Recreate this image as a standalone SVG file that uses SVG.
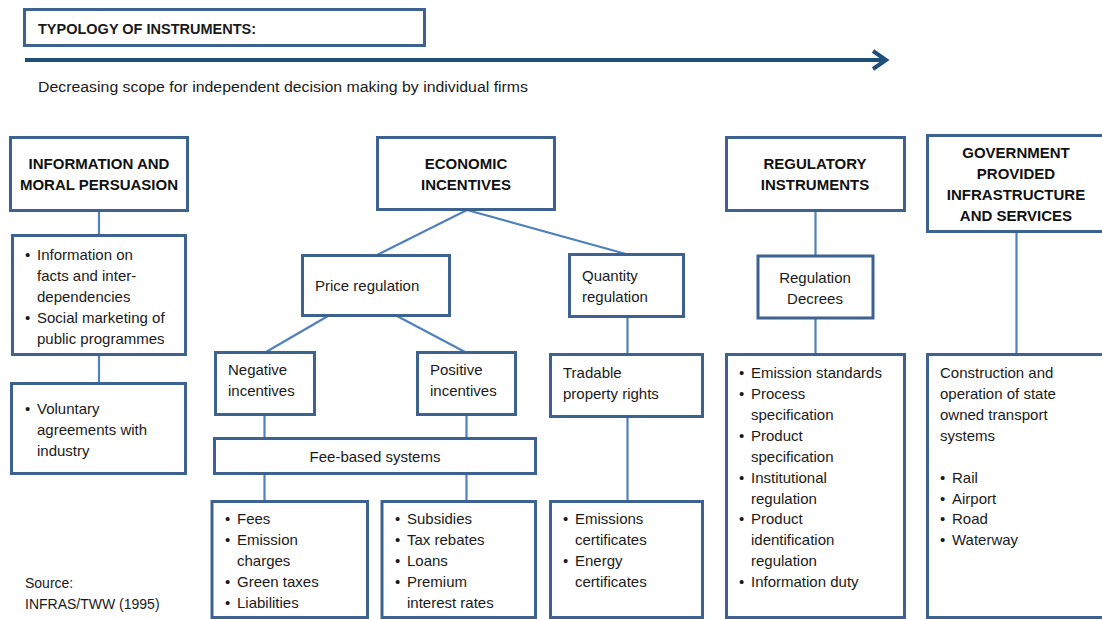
<svg xmlns="http://www.w3.org/2000/svg" width="1102" height="619" viewBox="0 0 1102 619">
  <style>
    .box { fill: #ffffff; stroke: #3e628f; stroke-width: 3; }
    .link { stroke: #4f81bd; stroke-width: 2.2; fill: none; }
    .t { font-family: "Liberation Sans", Arial, sans-serif; font-size: 15px; fill: #1a1a1a; }
    .h { font-family: "Liberation Sans", Arial, sans-serif; font-size: 15px; font-weight: bold; fill: #111111; text-anchor: middle; }
    .c { text-anchor: middle; }
  </style>

  <rect width="1102" height="619" fill="#ffffff"/>

  <!-- title and direction arrow -->
  <g id="title">
    <rect class="box" x="24.5" y="9.5" width="400" height="36"/>
    <text class="t" x="38" y="34" style="font-weight:bold;font-size:14.5px">TYPOLOGY OF INSTRUMENTS:</text>
  </g>
  <g id="scope-arrow">
    <line x1="25" y1="60" x2="884" y2="60" stroke="#1f4e79" stroke-width="4"/>
    <polyline points="873,51 886,60 873,69" fill="none" stroke="#1f4e79" stroke-width="4" stroke-linejoin="miter"/>
    <text class="t" x="38" y="92" textLength="490" lengthAdjust="spacingAndGlyphs" style="font-size:15.5px">Decreasing scope for independent decision making by individual firms</text>
  </g>

  <!-- connectors -->
  <g id="connectors">
    <line class="link" x1="99" y1="211" x2="99" y2="235"/>
    <line class="link" x1="99" y1="355" x2="99" y2="383"/>
    <line class="link" x1="467" y1="210" x2="377" y2="255"/>
    <line class="link" x1="467" y1="210" x2="626" y2="254"/>
    <line class="link" x1="328" y1="316" x2="266" y2="352"/>
    <line class="link" x1="397" y1="316" x2="465" y2="352"/>
    <line class="link" x1="264.5" y1="415" x2="264.5" y2="438"/>
    <line class="link" x1="466.5" y1="415" x2="466.5" y2="438"/>
    <line class="link" x1="264.5" y1="474" x2="264.5" y2="501"/>
    <line class="link" x1="466.5" y1="474" x2="466.5" y2="501"/>
    <line class="link" x1="627.5" y1="317" x2="627.5" y2="354"/>
    <line class="link" x1="627.5" y1="417" x2="627.5" y2="501"/>
    <line class="link" x1="815.5" y1="211" x2="815.5" y2="256"/>
    <line class="link" x1="815.5" y1="318" x2="815.5" y2="354"/>
    <line class="link" x1="1016.5" y1="232" x2="1016.5" y2="354"/>
  </g>

  <!-- column 1: information and moral persuasion -->
  <g id="info-moral">
    <rect class="box" x="10.5" y="137.5" width="177" height="73"/>
    <text class="h" x="99" y="169">INFORMATION AND</text>
    <text class="h" x="99" y="190">MORAL PERSUASION</text>
  </g>
  <g id="info-facts">
    <rect class="box" x="12.5" y="235.5" width="173" height="119"/>
    <text class="t" x="25" y="260">•</text>
    <text class="t" x="37" y="260">Information on</text>
    <text class="t" x="37" y="281">facts and inter-</text>
    <text class="t" x="37" y="302">dependencies</text>
    <text class="t" x="25" y="323">•</text>
    <text class="t" x="37" y="323">Social marketing of</text>
    <text class="t" x="37" y="344">public programmes</text>
  </g>
  <g id="voluntary">
    <rect class="box" x="11.5" y="383.5" width="174" height="90"/>
    <text class="t" x="25" y="414">•</text>
    <text class="t" x="37" y="414">Voluntary</text>
    <text class="t" x="37" y="435">agreements with</text>
    <text class="t" x="37" y="456">industry</text>
  </g>
  <g id="source">
    <text class="t" x="25" y="588" style="font-size:14px">Source:</text>
    <text class="t" x="25" y="609" style="font-size:14px">INFRAS/TWW (1995)</text>
  </g>

  <!-- column 2: economic incentives -->
  <g id="economic">
    <rect class="box" x="377.5" y="137.5" width="177" height="72"/>
    <text class="h" x="466" y="169">ECONOMIC</text>
    <text class="h" x="466" y="190">INCENTIVES</text>
  </g>
  <g id="price-regulation">
    <rect class="box" x="302.5" y="255.5" width="147" height="60"/>
    <text class="t" x="315" y="291">Price regulation</text>
  </g>
  <g id="negative">
    <rect class="box" x="215.5" y="352.5" width="99" height="62"/>
    <text class="t" x="228" y="375">Negative</text>
    <text class="t" x="228" y="396">incentives</text>
  </g>
  <g id="positive">
    <rect class="box" x="417.5" y="352.5" width="98" height="62"/>
    <text class="t" x="430" y="375">Positive</text>
    <text class="t" x="430" y="396">incentives</text>
  </g>
  <g id="fee-based">
    <rect class="box" x="214.5" y="438.5" width="321" height="35"/>
    <text class="t c" x="375" y="462">Fee-based systems</text>
  </g>
  <g id="fees">
    <rect class="box" x="212" y="501.5" width="155.5" height="116"/>
    <text class="t" x="225" y="524">•</text>
    <text class="t" x="237" y="524">Fees</text>
    <text class="t" x="225" y="545">•</text>
    <text class="t" x="237" y="545">Emission</text>
    <text class="t" x="237" y="566">charges</text>
    <text class="t" x="225" y="587">•</text>
    <text class="t" x="237" y="587">Green taxes</text>
    <text class="t" x="225" y="608">•</text>
    <text class="t" x="237" y="608">Liabilities</text>
  </g>
  <g id="subsidies">
    <rect class="box" x="382" y="501.5" width="153.5" height="116"/>
    <text class="t" x="395" y="524">•</text>
    <text class="t" x="407" y="524">Subsidies</text>
    <text class="t" x="395" y="545">•</text>
    <text class="t" x="407" y="545">Tax rebates</text>
    <text class="t" x="395" y="566">•</text>
    <text class="t" x="407" y="566">Loans</text>
    <text class="t" x="395" y="587">•</text>
    <text class="t" x="407" y="587">Premium</text>
    <text class="t" x="407" y="608">interest rates</text>
  </g>
  <g id="quantity-regulation">
    <rect class="box" x="569.5" y="254.5" width="114" height="62"/>
    <text class="t" x="582" y="281">Quantity</text>
    <text class="t" x="582" y="302">regulation</text>
  </g>
  <g id="tradable">
    <rect class="box" x="550.5" y="354.5" width="152" height="62"/>
    <text class="t" x="563" y="378">Tradable</text>
    <text class="t" x="563" y="399">property rights</text>
  </g>
  <g id="certificates">
    <rect class="box" x="550.5" y="501.5" width="152" height="116"/>
    <text class="t" x="563" y="524">•</text>
    <text class="t" x="575" y="524">Emissions</text>
    <text class="t" x="575" y="545">certificates</text>
    <text class="t" x="563" y="566">•</text>
    <text class="t" x="575" y="566">Energy</text>
    <text class="t" x="575" y="587">certificates</text>
  </g>

  <!-- column 3: regulatory instruments -->
  <g id="regulatory">
    <rect class="box" x="726.5" y="137.5" width="178" height="73"/>
    <text class="h" x="815" y="169">REGULATORY</text>
    <text class="h" x="815" y="190">INSTRUMENTS</text>
  </g>
  <g id="decrees">
    <rect class="box" x="758" y="256" width="115" height="62"/>
    <text class="t c" x="815" y="283">Regulation</text>
    <text class="t c" x="815" y="304">Decrees</text>
  </g>
  <g id="regulatory-list">
    <rect class="box" x="726.5" y="354.5" width="178" height="263"/>
    <text class="t" x="739" y="378">•</text>
    <text class="t" x="751" y="378">Emission standards</text>
    <text class="t" x="739" y="399">•</text>
    <text class="t" x="751" y="399">Process</text>
    <text class="t" x="751" y="420">specification</text>
    <text class="t" x="739" y="441">•</text>
    <text class="t" x="751" y="441">Product</text>
    <text class="t" x="751" y="462">specification</text>
    <text class="t" x="739" y="483">•</text>
    <text class="t" x="751" y="483">Institutional</text>
    <text class="t" x="751" y="504">regulation</text>
    <text class="t" x="739" y="524">•</text>
    <text class="t" x="751" y="524">Product</text>
    <text class="t" x="751" y="545">identification</text>
    <text class="t" x="751" y="566">regulation</text>
    <text class="t" x="739" y="587">•</text>
    <text class="t" x="751" y="587">Information duty</text>
  </g>

  <!-- column 4: government provided infrastructure -->
  <g id="government">
    <rect class="box" x="927.5" y="135.5" width="180" height="96"/>
    <text class="h" x="1016" y="158">GOVERNMENT</text>
    <text class="h" x="1016" y="179">PROVIDED</text>
    <text class="h" x="1016" y="200">INFRASTRUCTURE</text>
    <text class="h" x="1016" y="221">AND SERVICES</text>
  </g>
  <g id="transport">
    <rect class="box" x="927.5" y="354.5" width="180" height="263"/>
    <text class="t" x="940" y="378">Construction and</text>
    <text class="t" x="940" y="399">operation of state</text>
    <text class="t" x="940" y="420">owned transport</text>
    <text class="t" x="940" y="441">systems</text>
    <text class="t" x="940" y="483">•</text>
    <text class="t" x="952" y="483">Rail</text>
    <text class="t" x="940" y="504">•</text>
    <text class="t" x="952" y="504">Airport</text>
    <text class="t" x="940" y="524">•</text>
    <text class="t" x="952" y="524">Road</text>
    <text class="t" x="940" y="545">•</text>
    <text class="t" x="952" y="545">Waterway</text>
  </g>
</svg>
